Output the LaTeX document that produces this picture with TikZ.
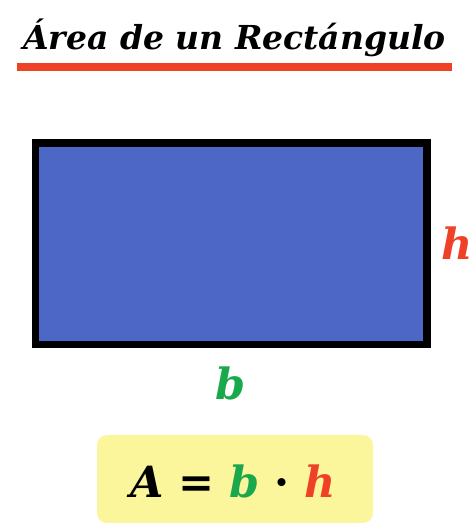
\documentclass[tikz,border=0pt]{standalone}
\usepackage{fontspec}
\setmainfont{DejaVu Serif}
\usepackage{tikz}
\usetikzlibrary{positioning}
\definecolor{rectBlue}{HTML}{4D67C7}
\definecolor{lineRed}{HTML}{EE4126}
\definecolor{baseGreen}{HTML}{19A84B}
\definecolor{boxYellow}{HTML}{FBF59B}

\begin{document}
\begin{tikzpicture}[x=1pt, y=1pt,
    lbl/.style={font=\fontsize{43}{43}\selectfont\bfseries\itshape, inner sep=0pt, anchor=base}]
    \useasboundingbox (0,0) rectangle (474,530);

    % Title
    \node[font=\fontsize{33}{33}\selectfont\bfseries\itshape, inner sep=0pt, anchor=base] (title) at (234.5,480) {Área de un Rectángulo};
    \draw[lineRed, line width=7.5pt] (16.7,463) -- (452,463);

    % Rectangle
    \node[draw=black, fill=rectBlue, line width=7.5pt, inner sep=0pt,
          minimum width=391.5pt, minimum height=201.5pt] (rect) at (231.25,286.25) {};

    % Labels
    \node[lbl, text=baseGreen] (base) at (231,130) {b};
    \node[lbl, text=lineRed] (height) at (457,270) {h};

    % Formula
    \fill[boxYellow, rounded corners=10pt] (97,7) rectangle (373,95);
    \node[lbl] (formula) at (233,32)
        {A {\upshape=} \textcolor{baseGreen}{b} {\upshape·} \textcolor{lineRed}{h}};
\end{tikzpicture}
\end{document}
